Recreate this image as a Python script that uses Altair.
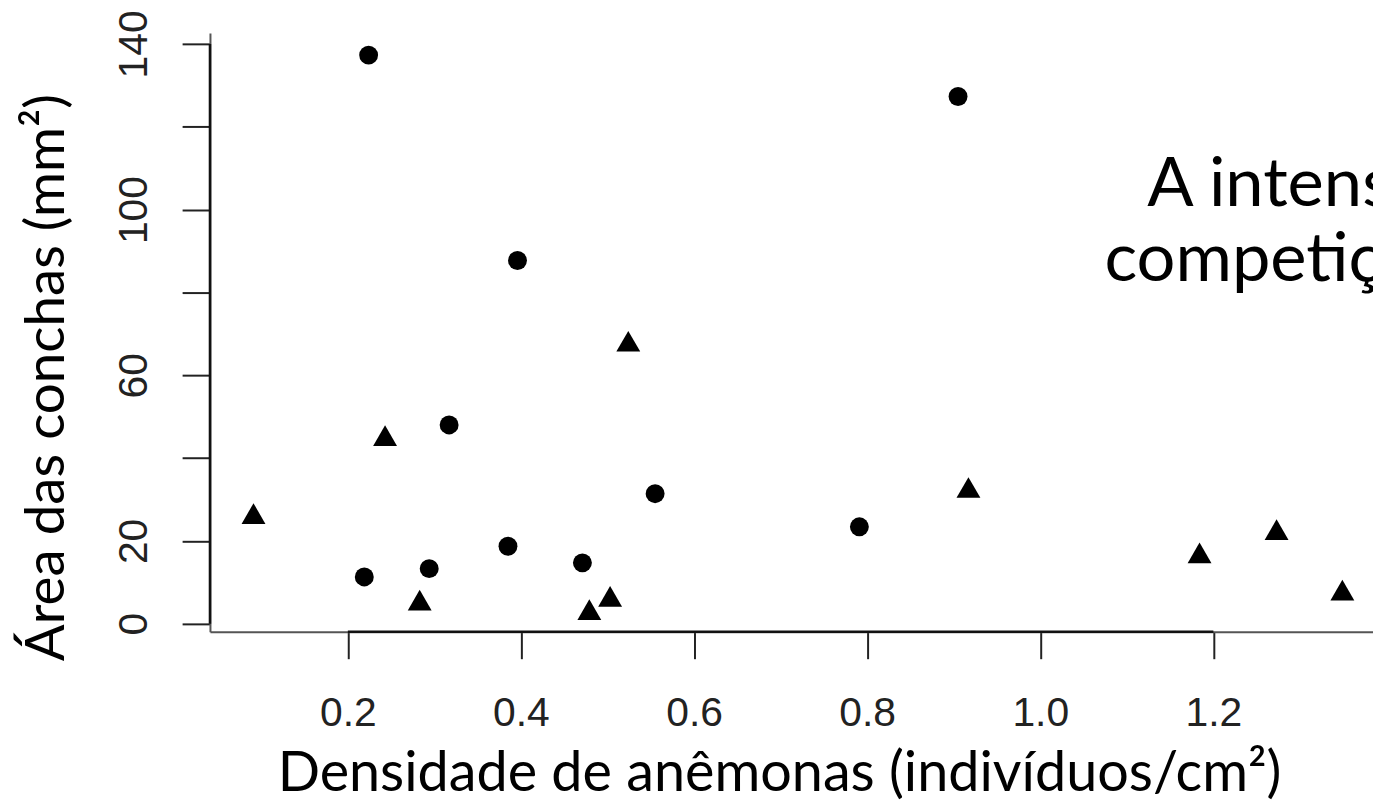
import altair as alt
import pandas as pd

# ---- data ----
circle_x = [0.224, 0.396, 0.317, 0.555, 0.385, 0.219, 0.294, 0.471, 0.791, 0.905]
circle_y = [137.3, 87.7, 48.0, 31.4, 18.7, 11.3, 13.3, 14.7, 23.4, 127.3]
tri_x = [0.091, 0.243, 0.524, 0.283, 0.479, 0.503, 0.917, 1.184, 1.273, 1.349]
tri_y = [26.6, 45.4, 68.2, 5.7, 3.4, 6.6, 32.9, 17.1, 22.7, 8.1]
groups = ["circulo", "triangulo"]
x_ticks = [0.2, 0.4, 0.6, 0.8, 1.0, 1.2]
y_ticks = [0, 20, 40, 60, 80, 100, 120, 140]
x_title = "Densidade de anêmonas (indivíduos/cm²)"
y_title = "Área das conchas (mm²)"
note_lines = ["A intensidade", "competição"]

pts = pd.DataFrame({
    "dens": circle_x + tri_x,
    "area": circle_y + tri_y,
    "grupo": [groups[0]] * len(circle_x) + [groups[1]] * len(tri_x),
})

W, H = 1169, 602
x_scale = alt.Scale(domain=[0.0407, 1.3844], nice=False, zero=False)
y_scale = alt.Scale(domain=[-1.96, 142.66], nice=False, zero=False)

x_axis = alt.Axis(
    values=x_ticks, format=".1f", grid=False,
    tickSize=27, tickWidth=2, tickColor="#222",
    domainColor="#555", domainWidth=2,
    labelFont="Liberation Sans", labelFontSize=41, labelColor="#222",
    labelPadding=35, labelFlush=False, labelOverlap=False,
    title=x_title, titleFont="Lato", titleFontSize=56, titleFontWeight="normal",
    titleColor="black", titleX=572, titleY=159, titleAlign="center",
    titleBaseline="alphabetic",
)
y_axis = alt.Axis(
    values=y_ticks, grid=False,
    labelExpr="datum.value == 0 || datum.value % 40 == 20 ? datum.label : ''",
    tickSize=28, tickWidth=2, tickColor="#222",
    domainColor="#555", domainWidth=2,
    labelFont="Liberation Sans", labelFontSize=41, labelColor="#222",
    labelAngle=270, labelAlign="center", labelBaseline="alphabetic",
    labelPadding=36, labelOverlap=False,
    title=y_title, titleFont="Lato", titleFontSize=55, titleFontWeight="normal",
    titleColor="black", titleAngle=270, titleX=-147, titleY=346,
    titleAlign="center", titleBaseline="alphabetic",
)

points = alt.Chart(pts).mark_point(filled=True, opacity=1, color="black", strokeWidth=0).encode(
    x=alt.X("dens:Q", scale=x_scale, axis=x_axis),
    y=alt.Y("area:Q", scale=y_scale, axis=y_axis),
    shape=alt.Shape("grupo:N", scale=alt.Scale(domain=groups, range=["circle", "triangle-up"]), legend=None),
    size=alt.Size("grupo:N", scale=alt.Scale(domain=groups, range=[361, 576]), legend=None),
)

xseg = pd.DataFrame({"a": [min(x_ticks)], "b": [max(x_ticks)]})
yseg = pd.DataFrame({"a": [min(y_ticks)], "b": [max(y_ticks)]})
x_rule = alt.Chart(xseg).mark_rule(color="#111", strokeWidth=2.5).encode(
    x=alt.X("a:Q", scale=x_scale), x2="b:Q", y=alt.value(H)
)
y_rule = alt.Chart(yseg).mark_rule(color="#111", strokeWidth=2.5).encode(
    y=alt.Y("a:Q", scale=y_scale), y2="b:Q", x=alt.value(0)
)

note1 = alt.Chart(pd.DataFrame({"t": [note_lines[0]]})).mark_text(
    align="left", baseline="alphabetic", font="Lato", fontSize=69, color="black"
).encode(text="t:N", x=alt.value(1153 - 211), y=alt.value(205 - 31))
note2 = alt.Chart(pd.DataFrame({"t": [note_lines[1]]})).mark_text(
    align="left", baseline="alphabetic", font="Lato", fontSize=69, color="black"
).encode(text="t:N", x=alt.value(1110 - 211), y=alt.value(280 - 31))

chart = alt.layer(points, x_rule, y_rule, note1, note2).properties(
    width=W, height=H,
    padding={"left": 203, "top": 23, "right": 0, "bottom": 170},
    autosize=alt.AutoSizeParams(type="none"),
    background="white",
).configure_view(stroke=None)

chart.save("out.html", embed_options={"renderer": "svg", "actions": False})
